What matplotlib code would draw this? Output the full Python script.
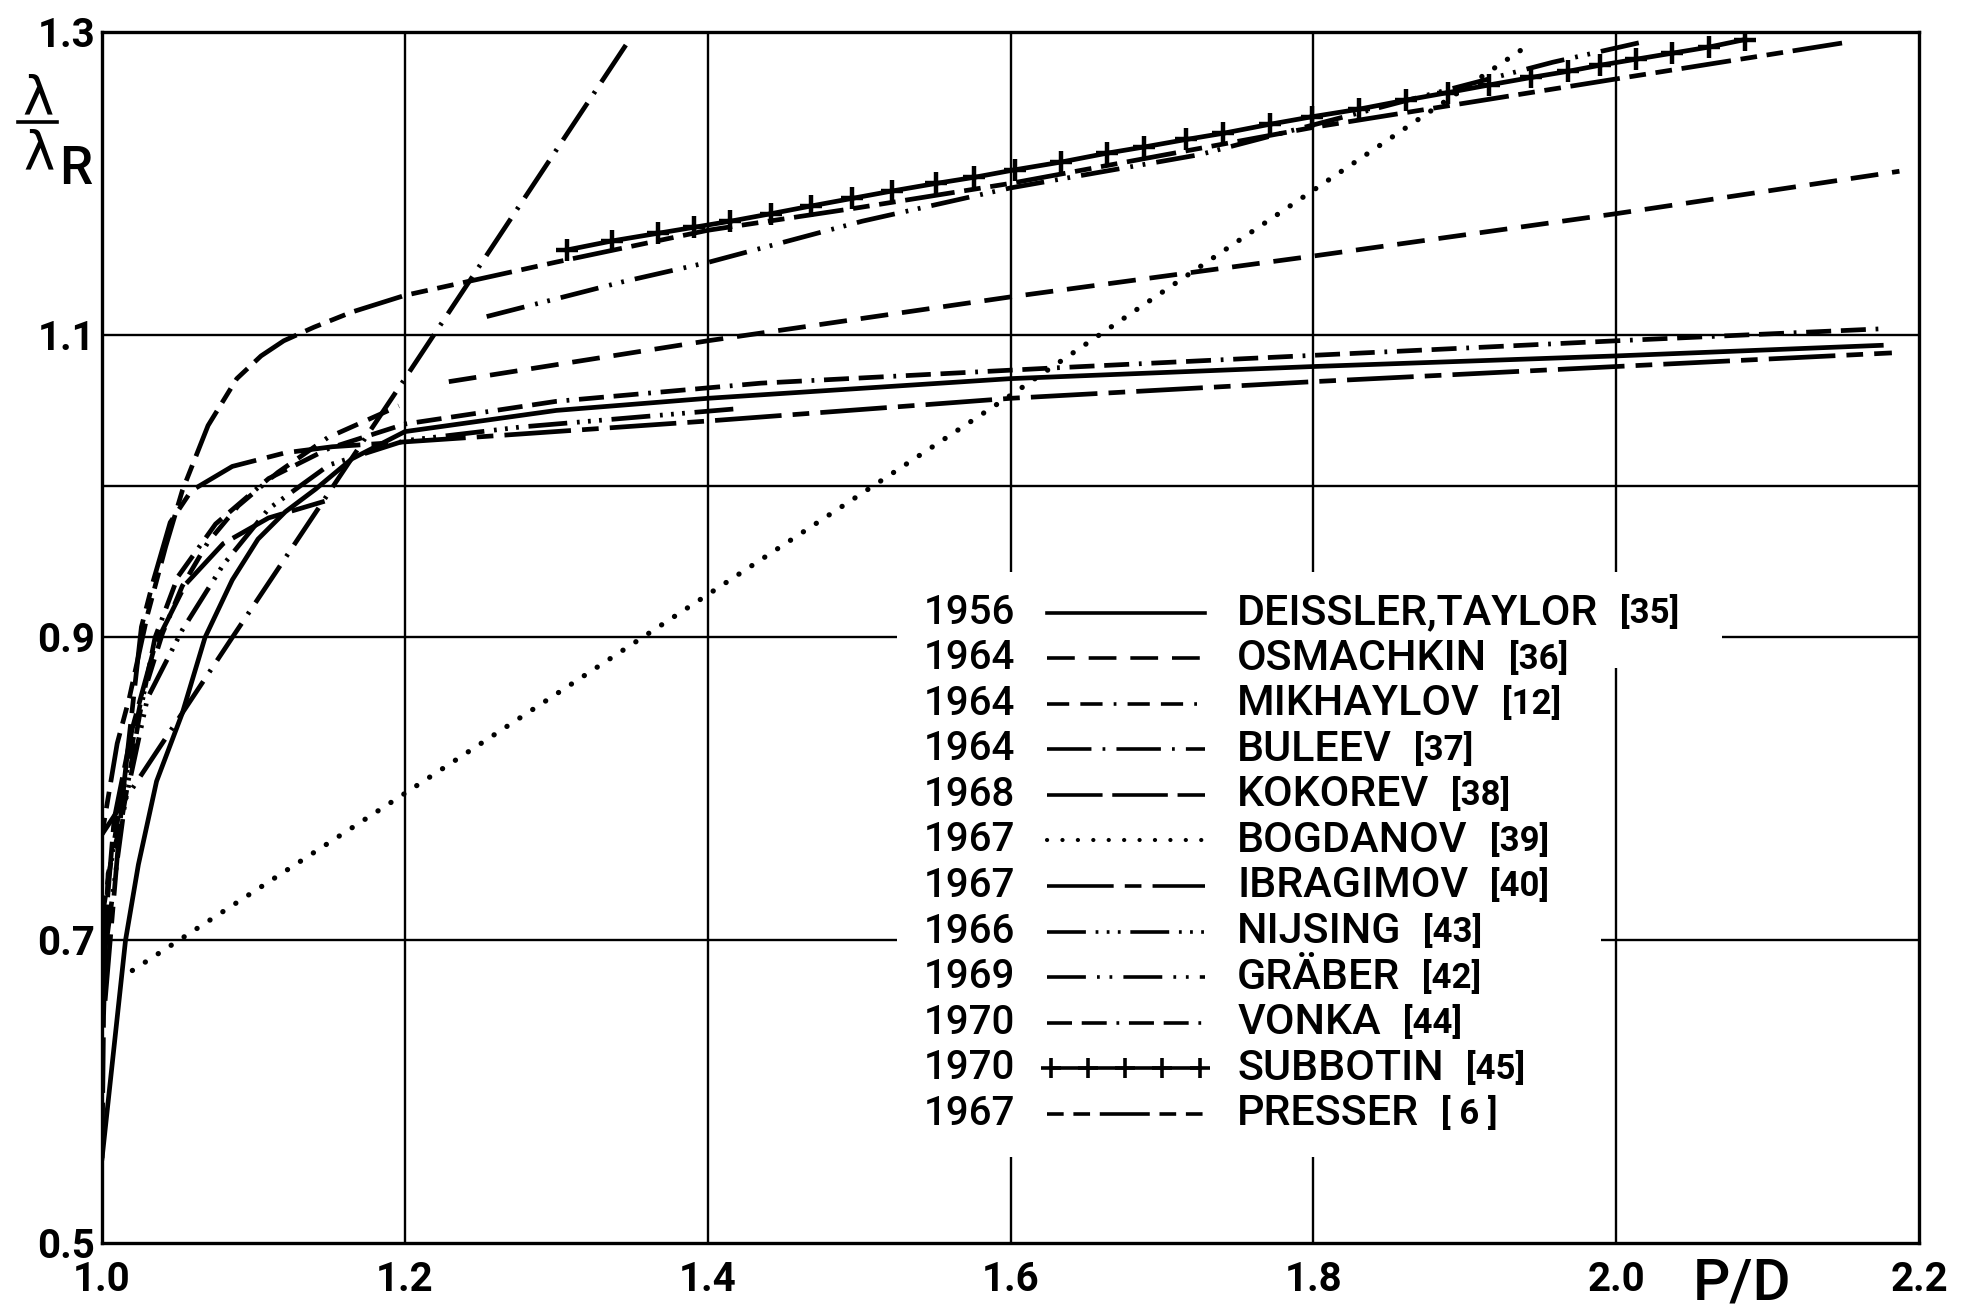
import numpy as np
import matplotlib
matplotlib.use('Agg')
import matplotlib.pyplot as plt
from matplotlib.lines import Line2D
from matplotlib.patches import Rectangle

plt.rcParams['font.family'] = ['Roboto', 'DejaVu Sans']
plt.rcParams['font.weight'] = 'medium'
plt.rcParams['lines.scale_dashes'] = False

# curves, x = P/D, y = lambda / lambda_R
deissler_x = [1.0, 1.0155, 1.024, 1.036, 1.053, 1.068, 1.086, 1.103, 1.121, 1.141, 1.165, 1.2, 1.3, 1.4, 1.6, 1.8, 2.0, 2.175]
deissler_y = [0.556, 0.70, 0.75, 0.805, 0.85, 0.9, 0.938, 0.965, 0.983, 0.998, 1.018, 1.036, 1.05, 1.058, 1.071, 1.079, 1.086, 1.093]

osmachkin_x = [1.229, 1.4, 1.6, 1.8, 2.0, 2.187]
osmachkin_y = [1.069, 1.096, 1.125, 1.152, 1.180, 1.208]

mikhaylov_x = [1.0, 1.012, 1.025, 1.04, 1.053, 1.07, 1.09, 1.116, 1.149, 1.196]
mikhaylov_y = [0.715, 0.79, 0.855, 0.903, 0.934, 0.963, 0.987, 1.009, 1.032, 1.053]

buleev_x = [1.0, 1.086, 1.2, 1.347]
buleev_y = [0.77, 0.9, 1.071, 1.293]

kokorev_x = [1.0, 1.001, 1.003, 1.008, 1.02, 1.035, 1.055, 1.08, 1.11, 1.147]
kokorev_y = [0.556, 0.65, 0.72, 0.78, 0.84, 0.895, 0.935, 0.962, 0.979, 0.99]

bogdanov_x = [1.02, 1.2, 1.5, 1.6, 1.7, 1.94]
bogdanov_y = [0.68, 0.797, 0.994, 1.06, 1.128, 1.29]

ibragimov_x = [1.002, 1.013, 1.026, 1.034, 1.045, 1.059, 1.086, 1.121, 1.152, 1.256, 1.4, 1.6, 1.8, 2.0, 2.182]
ibragimov_y = [0.66, 0.79, 0.907, 0.938, 0.976, 0.997, 1.013, 1.022, 1.026, 1.033, 1.043, 1.058, 1.069, 1.079, 1.088]

nijsing_x = [1.003, 1.015, 1.03, 1.053, 1.08, 1.11, 1.15, 1.2, 1.276, 1.418]
nijsing_y = [0.70, 0.79, 0.86, 0.905, 0.948, 0.985, 1.014, 1.03, 1.039, 1.051]

graeber_x = [1.254, 1.344, 1.401, 1.502, 1.6, 1.725, 1.958, 2.02]
graeber_y = [1.112, 1.135, 1.148, 1.175, 1.197, 1.219, 1.28, 1.294]

vonka_x = [1.0, 1.004, 1.013, 1.025, 1.035, 1.05, 1.075, 1.11, 1.15, 1.2, 1.3, 1.435, 1.627, 1.8, 2.0, 2.177]
vonka_y = [0.653, 0.744, 0.78, 0.85, 0.9, 0.94, 0.975, 1.005, 1.025, 1.041, 1.056, 1.068, 1.078, 1.0864, 1.096, 1.104]

subbotin_x = [1.307, 1.337, 1.367, 1.391, 1.415, 1.442, 1.468, 1.495, 1.522, 1.551, 1.576, 1.603, 1.633, 1.664, 1.688,
              1.716, 1.74, 1.771, 1.799, 1.83, 1.861, 1.889, 1.916, 1.944, 1.968, 1.989, 2.013, 2.037, 2.061, 2.085]
subbotin_y = [1.156, 1.162, 1.167, 1.171, 1.175, 1.180, 1.185, 1.190, 1.195, 1.200, 1.204, 1.209, 1.214, 1.220, 1.224,
              1.229, 1.233, 1.239, 1.244, 1.249, 1.255, 1.260, 1.265, 1.270, 1.274, 1.278, 1.282, 1.286, 1.290, 1.295]

presser_x = [1.0, 1.01, 1.018, 1.03, 1.042, 1.053, 1.07, 1.089, 1.105, 1.12, 1.14, 1.165, 1.2, 1.3, 1.4, 1.5, 1.6, 1.8, 2.0, 2.151]
presser_y = [0.77, 0.83, 0.86, 0.915, 0.96, 0.997, 1.04, 1.071, 1.086, 1.096, 1.105, 1.115, 1.126, 1.148, 1.169, 1.184, 1.20, 1.237, 1.269, 1.293]

legend_years = ['1956', '1964', '1964', '1964', '1968', '1967', '1967', '1966', '1969', '1970', '1970', '1967']
legend_names = ['DEISSLER,TAYLOR', 'OSMACHKIN', 'MIKHAYLOV', 'BULEEV', 'KOKOREV', 'BOGDANOV',
                'IBRAGIMOV', 'NIJSING', 'GRÄBER', 'VONKA', 'SUBBOTIN', 'PRESSER']
legend_refs = ['[35]', '[36]', '[12]', '[37]', '[38]', '[39]', '[40]', '[43]', '[42]', '[44]', '[45]', '[ 6 ]']

x_ticks = [1.0, 1.2, 1.4, 1.6, 1.8, 2.0, 2.2]
y_ticks = [0.5, 0.7, 0.9, 1.1, 1.3]
x_grid = [1.2, 1.4, 1.6, 1.8, 2.0]
y_grid = [0.7, 0.9, 1.0, 1.1]

curves = [
    (deissler_x, deissler_y), (osmachkin_x, osmachkin_y), (mikhaylov_x, mikhaylov_y),
    (buleev_x, buleev_y), (kokorev_x, kokorev_y), (bogdanov_x, bogdanov_y),
    (ibragimov_x, ibragimov_y), (nijsing_x, nijsing_y), (graeber_x, graeber_y),
    (vonka_x, vonka_y), (subbotin_x, subbotin_y), (presser_x, presser_y),
]

LW = 3.4
styles = [
    dict(linestyle='-'),
    dict(linestyle=(0, (20, 10))),
    dict(linestyle=(0, (16, 8, 16, 8, 2, 8))),
    dict(linestyle=(0, (32, 8, 2, 8))),
    dict(linestyle=(0, (40, 7))),
    dict(linestyle=(0, (0.1, 11)), dash_capstyle='round', linewidth=3.8),
    dict(linestyle=(0, (48, 8, 12, 8))),
    dict(linestyle=(0, (28, 7, 2, 6, 2, 6, 2, 7))),
    dict(linestyle=(0, (28, 8, 2, 7, 2, 8))),
    dict(linestyle=(0, (18, 7, 18, 7, 2, 7))),
    dict(linestyle='-', marker='+', markersize=16, markeredgewidth=3.2),
    dict(linestyle=(0, (12, 7, 12, 7, 36, 7))),
]

fig = plt.figure(figsize=(19.74, 13.11), dpi=100)
ax = fig.add_axes([0.0517, 0.0519, 0.9205, 0.9237])
ax.set_xlim(1.0, 2.2)
ax.set_ylim(0.5, 1.3)

for v in x_grid:
    ax.axvline(v, color='black', lw=1.7, zorder=1)
for v in y_grid:
    ax.axhline(v, color='black', lw=1.7, zorder=1)

# white label pasted over the grid
ax.add_patch(Rectangle((1.525, 0.88), 0.545, 0.063, facecolor='white', edgecolor='none', zorder=2))
ax.add_patch(Rectangle((1.525, 0.557), 0.465, 0.324, facecolor='white', edgecolor='none', zorder=2))

for (xs, ys), st in zip(curves, styles):
    kw = dict(color='black', linewidth=LW, zorder=3)
    kw.update(st)
    ax.plot(xs, ys, **kw)

for s in ax.spines.values():
    s.set_linewidth(2.4)

ax.set_xticks(x_ticks)
ax.set_xticklabels(['%.1f' % v for v in x_ticks], fontweight='bold')
ax.set_yticks(y_ticks)
ax.set_yticklabels(['%.1f' % v for v in y_ticks], fontweight='bold')
ax.tick_params(axis='x', length=0, pad=13, labelsize=29)
ax.tick_params(axis='y', length=0, pad=5, labelsize=29)

ax.text(2.083, -0.047, 'P/D', transform=ax.get_xaxis_transform(), ha='center', va='baseline', fontsize=42)

# lambda / lambda_R label
fig.text(0.0193, 0.9245, 'λ', ha='center', va='center', fontsize=38, family=['DejaVu Sans'])
fig.add_artist(Line2D([0.0091, 0.0289], [0.907, 0.907], color='black', lw=2.6))
fig.text(0.0198, 0.8825, 'λ', ha='center', va='center', fontsize=38, family=['DejaVu Sans'])
fig.text(0.0385, 0.8705, 'R', ha='center', va='center', fontsize=38)

# legend drawn by hand, years / line / name [ref]
row_top = 0.5205
row_step = (0.5205 - 0.1067) / 11
name_texts = []
for i, (year, name) in enumerate(zip(legend_years, legend_names)):
    yy = row_top - i * row_step
    ax.text(0.5025, yy, year, transform=ax.transAxes, ha='right', va='center', fontsize=29, zorder=4)
    st = dict(color='black', linewidth=2.6)
    st.update(styles[i])
    if 'marker' in st:
        sx = np.linspace(0.522, 0.604, 5)
        st['markersize'] = 14
        st['markeredgewidth'] = 2.6
    else:
        sx = [0.520, 0.607]
    st['linewidth'] = 3.0 if i == 5 else 2.6
    ax.add_line(Line2D(sx, [yy] * len(sx), transform=ax.transAxes, zorder=4, **st))
    name_texts.append(ax.text(0.6247, yy, name, transform=ax.transAxes, ha='left', va='center',
                              fontsize=31, zorder=4))

fig.canvas.draw()
renderer = fig.canvas.get_renderer()
inv = ax.transAxes.inverted()
for t, ref in zip(name_texts, legend_refs):
    bb = t.get_window_extent(renderer)
    x1 = inv.transform((bb.x1, bb.y0))[0]
    ax.text(x1 + 0.012, t.get_position()[1], ref, transform=ax.transAxes, ha='left', va='center',
            fontsize=25, fontweight='bold', zorder=4)

fig.savefig('out.png', dpi=100)
